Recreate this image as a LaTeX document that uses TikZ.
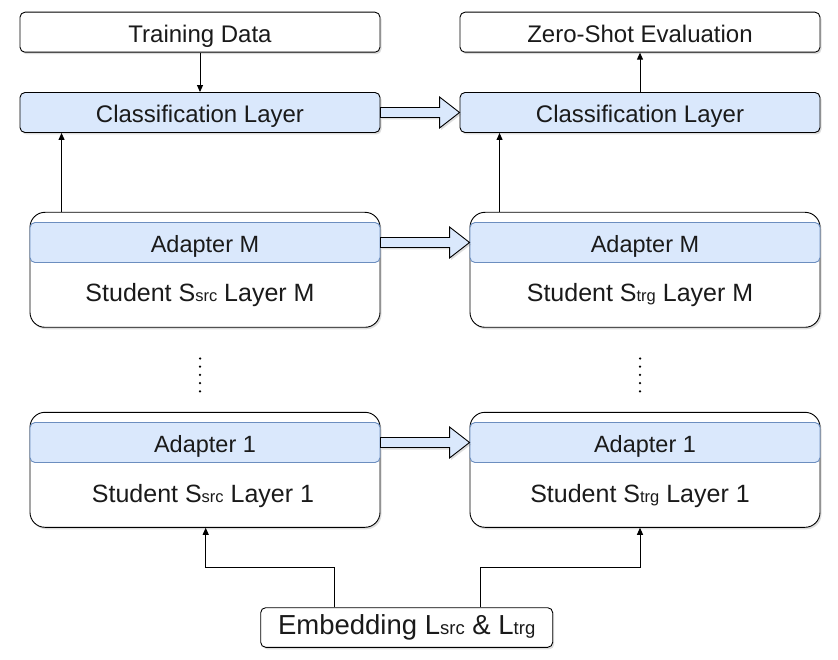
\documentclass[tikz,border=0pt]{standalone}
\usepackage{fontspec}
\setmainfont{Liberation Sans}
\usetikzlibrary{calc,shadows,arrows.meta}

\definecolor{bluefill}{HTML}{DAE8FC}
\definecolor{bluestroke}{HTML}{6C8EBF}
\definecolor{txt}{HTML}{1A1A1A}

\newcommand{\smallsub}[1]{{\fontsize{16.5}{16.5}\selectfont #1}}
\newcommand{\bigsub}[1]{{\fontsize{18.5}{18.5}\selectfont #1}}

\tikzset{
  shade/.style={drop shadow={shadow xshift=1.5pt,shadow yshift=-2pt,opacity=0.22,fill=black!60}},
  plainbox/.style={draw=black,fill=white,rounded corners=5pt,line width=0.9pt,
    minimum width=360pt,minimum height=40pt,inner sep=0pt,shade,
    font=\fontsize{24}{28}\selectfont,text=txt,text height=21.6pt,text depth=1.44pt},
  clsbox/.style={plainbox,fill=bluefill},
  studentbox/.style={draw=black,fill=white,rounded corners=15pt,line width=0.9pt,
    minimum width=350pt,minimum height=115pt,inner sep=0pt,shade},
  adapterband/.style={draw=bluestroke,fill=bluefill,rounded corners=5pt,line width=0.9pt,
    minimum width=350pt,minimum height=40pt,inner sep=0pt,
    font=\fontsize{23.5}{27}\selectfont,text=txt,text height=21.15pt,text depth=1.41pt},
  studentlabel/.style={inner sep=0pt,font=\fontsize{25}{29}\selectfont,text=txt,
    text height=22.5pt,text depth=1.5pt},
  arr/.style={draw=black,line width=0.9pt,-{Triangle[length=7pt,width=6pt]}},
  blockarrow/.style={draw=black,fill=bluefill,line width=0.9pt,line join=miter,shade},
  dotmark/.style={fill=black,draw=none}
}

% wide hollow arrow between two nodes, tail on the east side of #1
\newcommand{\widearrow}[2]{%
  \path[blockarrow] ($(#1.east)+(0,-5)$) -- ($(#2.west)+(-20,-5)$) -- ($(#2.west)+(-20,-15.5)$)
    -- (#2.west) -- ($(#2.west)+(-20,15.5)$) -- ($(#2.west)+(-20,5)$) -- ($(#1.east)+(0,5)$) -- cycle;}

\begin{document}
\begin{tikzpicture}[x=1pt,y=-1pt]
  \useasboundingbox (0,0) rectangle (838,660);

  % top row
  \node[plainbox] (td) at (200,32.2) {Training Data};
  \node[plainbox] (zs) at (640,32.2) {Zero-Shot Evaluation};
  \node[clsbox] (clsL) at (200,112.5) {Classification Layer};
  \node[clsbox] (clsR) at (640,112.5) {Classification Layer};

  % student layer M
  \node[studentbox] (sM) at (205,269.8) {};
  \node[adapterband] (aM) at (205,242.5) {Adapter M};
  \node[studentlabel] (lsM) at (200,291.5) {Student S\smallsub{src} Layer M};
  \node[studentbox] (tM) at (645,269.8) {};
  \node[adapterband] (bM) at (645,242.5) {Adapter M};
  \node[studentlabel] (ltM) at (640,291.5) {Student S\smallsub{trg} Layer M};

  % student layer 1
  \node[studentbox] (s1) at (205,469.8) {};
  \node[adapterband] (a1) at (205,442.5) {Adapter 1};
  \node[studentlabel] (ls1) at (203,491.5) {Student S\smallsub{src} Layer 1};
  \node[studentbox] (t1) at (645,469.8) {};
  \node[adapterband] (b1) at (645,442.5) {Adapter 1};
  \node[studentlabel] (lt1) at (640,491.5) {Student S\smallsub{trg} Layer 1};

  % embedding
  \node[plainbox,minimum width=292pt,minimum height=39.6pt,font=\fontsize{27.5}{30}\selectfont,
    text height=20pt,text depth=5.8pt]
    (emb) at (406.7,627.5) {Embedding L\bigsub{src} \& L\bigsub{trg}};

  % thin connectors
  \draw[arr] (td) -- (clsL);
  \draw[arr] (clsR) -- (zs);
  \draw[arr] ([xshift=32pt]sM.north west) -- ([xshift=32pt]sM.north west |- clsL.south);
  \draw[arr] ([xshift=30pt]tM.north west) -- ([xshift=30pt]tM.north west |- clsR.south);

  \coordinate (jl) at (205.7,567);
  \coordinate (jr) at (640,567);
  \draw[arr] ([xshift=-72.7pt]emb.north) |- (jl) -- (jl |- s1.south);
  \draw[arr] ([xshift=74pt]emb.north) |- (jr) -- (jr |- t1.south);

  % wide arrows from source to target
  \widearrow{clsL}{clsR}
  \widearrow{aM}{bM}
  \widearrow{a1}{b1}

  % vertical ellipses between layers
  \foreach \yy in {358.5,366.7,374.9,383.1,391.3}{
    \fill[dotmark] (200,\yy) circle (1.25pt);
    \fill[dotmark] (640,\yy) circle (1.25pt);
  }
\end{tikzpicture}
\end{document}
